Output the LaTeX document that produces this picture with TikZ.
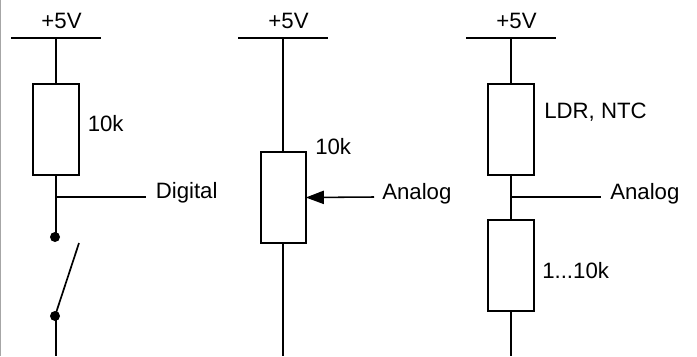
\documentclass[tikz,border=0pt]{standalone}
\usepackage{fontspec}
\setmainfont{Liberation Sans}
\usepackage{tikz}
\usetikzlibrary{arrows.meta}
\tikzset{
 wire/.style={line width=1.2pt},
 tapline/.style={line width=1.1pt},
 resistor/.style={draw,line width=1.3pt,minimum width=1.14cm,minimum height=2.275cm,rectangle,inner sep=0pt},
 lbl/.style={inner sep=0pt,font=\fontsize{15.8}{18}\selectfont,anchor=base west},
 sup/.style={inner sep=0pt,font=\fontsize{15.8}{18}\selectfont,anchor=base},
 dot/.style={circle,fill=black,inner sep=0pt,minimum size=0.25cm}
}
\begin{document}
\begin{tikzpicture}[x=0.025cm,y=-0.025cm]
\useasboundingbox (0,0) rectangle (697,356);
\draw[line width=1pt,gray!70] (0.5,0) -- (0.5,356);
% digital
\coordinate (railA) at (56,38);
\coordinate (railAl) at (11,38);
\coordinate (railAr) at (101,38);
\node[sup] (supA) at (61.5,28) {+5V};
\draw[wire] (railAl) -- (railAr);
\node[resistor] (resA) at (56,129.5) {};
\coordinate (tapA) at (56,197);
\coordinate (digi) at (146,197);
\node[dot] (dotA) at (55,237) {};
\node[dot] (dotB) at (55,316) {};
\coordinate (endA) at (56,356);
\coordinate (swA) at (79,243);
\node[lbl] (labA) at (87.5,131) {10k};
\node[lbl] (labB) at (155.5,198.5) {Digital};
\draw[wire] (railA) -- (resA.north);
\draw[wire] (resA.south) -- (56,237);
\draw[tapline] (tapA) -- (digi);
\draw[wire] (dotB.center) -- (swA);
\draw[wire] (56,316) -- (endA);
% analog pot
\coordinate (railB) at (283,38);
\coordinate (railBl) at (238,38);
\coordinate (railBr) at (328,38);
\node[sup] (supB) at (288.5,28) {+5V};
\draw[wire] (railBl) -- (railBr);
\node[resistor] (resB) at (283.5,197.5) {};
\coordinate (endB) at (283,356);
\coordinate (anaB) at (374,197);
\node[lbl] (labC) at (315,154) {10k};
\node[lbl] (labD) at (382,199) {Analog};
\draw[wire] (railB) -- (283,152);
\draw[wire] (283,243) -- (endB);
\draw[tapline,shorten >=-1pt,-{Triangle[length=0.45cm,width=0.33cm]}] (anaB) -- (resB.east);
% divider
\coordinate (railC) at (511,38);
\coordinate (railCl) at (466,38);
\coordinate (railCr) at (556,38);
\node[sup] (supC) at (516.5,28) {+5V};
\draw[wire] (railCl) -- (railCr);
\node[resistor] (resC) at (511,129.5) {};
\node[resistor] (resD) at (511,265.5) {};
\coordinate (tapC) at (511,197);
\coordinate (anaC) at (601,197);
\coordinate (endC) at (511,356);
\node[lbl] (labE) at (544,118.5) {LDR, NTC};
\node[lbl] (labF) at (610,199) {Analog};
\node[lbl] (labG) at (542,278) {1...10k};
\draw[wire] (railC) -- (resC.north);
\draw[wire] (resC.south) -- (resD.north);
\draw[tapline] (tapC) -- (anaC);
\draw[wire] (resD.south) -- (endC);
\end{tikzpicture}
\end{document}
